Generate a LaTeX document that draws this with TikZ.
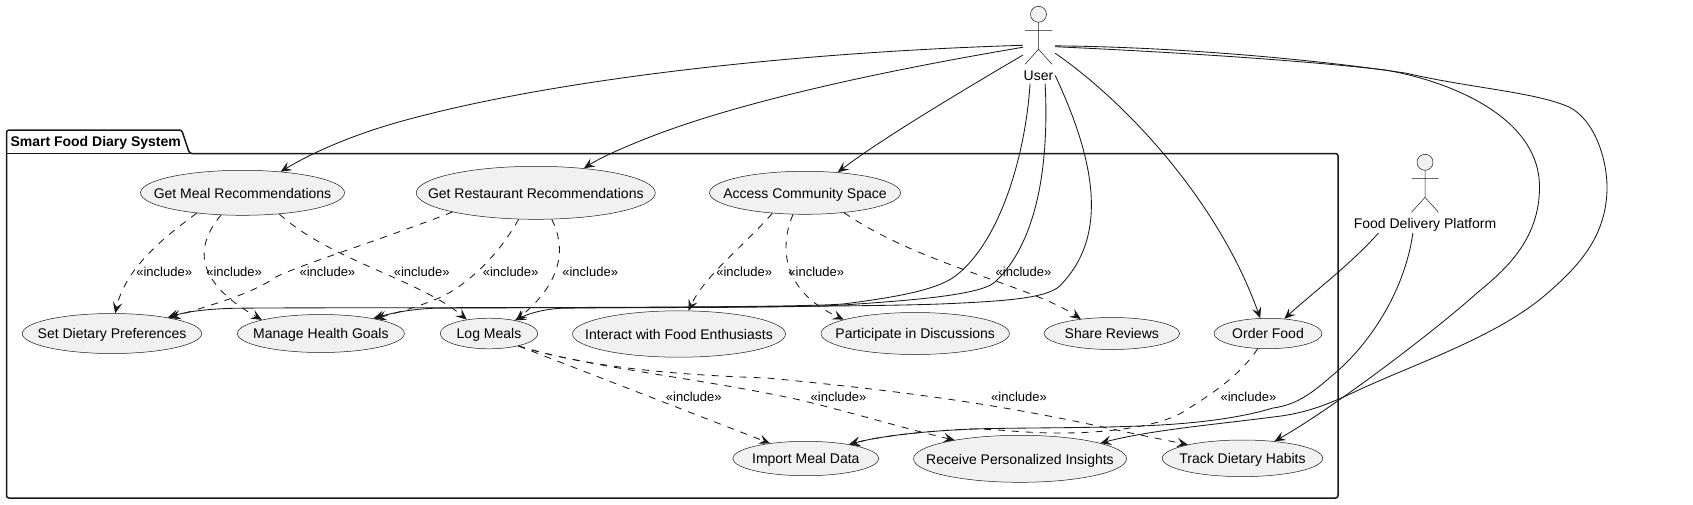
\documentclass[tikz,border=0pt]{standalone}
\usepackage{fontspec}
\setmainfont{Liberation Sans}
\usetikzlibrary{shapes.geometric,arrows.meta}
\definecolor{ink}{HTML}{181818}
\definecolor{pale}{HTML}{F1F1F1}
\newcommand{\uctext}[1]{\makebox[0pt]{\raisebox{-5.2pt}[0pt][0pt]{#1}}}
\tikzset{
  usecase/.style={ellipse,draw=ink,line width=.5pt,fill=pale,inner sep=0pt,font=\fontsize{14}{16}\selectfont},
  assoc/.style={draw=ink,line width=.85pt,-{Stealth[length=11pt,width=9.5pt,inset=4.5pt]}},
  incl/.style={assoc,dash pattern=on 7pt off 7pt},
  incltext/.style={inner sep=0pt,font=\fontsize{13}{15}\selectfont},
  stickman/.pic={
    \draw[ink,line width=.5pt,fill=pale] (0,0) circle (8);
    \draw[ink,line width=.5pt] (0,8)--(0,35) (-13.5,16)--(13.5,16) (-13.5,50)--(0,35)--(13.5,50);
  }
}
\begin{document}
\begin{tikzpicture}[x=1pt,y=-1pt]
\useasboundingbox (0,0) rectangle (1693,504);
% package frame
\draw[ink,line width=1.5pt,rounded corners=2.5pt] (6.5,498)--(6.5,130)--(181.7,130)--(189.5,153.5)--(1338,153.5)--(1338,498)--cycle;
\draw[ink,line width=1.5pt] (6.5,153.5)--(189.5,153.5);
\node[anchor=west,inner sep=0pt,font=\fontsize{14}{16}\selectfont\bfseries] (title) at (10.3,142.5) {Smart Food Diary System};
% actors
\pic at (1038.5,14.3) {stickman};
\pic at (1425,162.3) {stickman};
\node[inner sep=0pt,font=\fontsize{14}{16}\selectfont] (userlabel) at (1038.5,75.7) {User};
\node[minimum width=32pt,minimum height=77pt,inner sep=0pt] (user) at (1039,45) {};
\node[minimum height=16pt,inner sep=0pt,font=\fontsize{14}{16}\selectfont] (food) at (1425,224.8) {Food Delivery Platform};
% use cases
\node[usecase,minimum width=204pt,minimum height=45pt] (meal) at (242.5,192.8) {\uctext{Get Meal Recommendations}};
\node[usecase,minimum width=239pt,minimum height=53pt] (rest) at (535.8,192.8) {\uctext{Get Restaurant Recommendations}};
\node[usecase,minimum width=191pt,minimum height=43pt] (comm) at (805,192.8) {\uctext{Access Community Space}};
\node[usecase,minimum width=179.4pt,minimum height=40pt] (diet) at (112,333.5) {\uctext{Set Dietary Preferences}};
\node[usecase,minimum width=167pt,minimum height=38pt] (goal) at (320.9,333.5) {\uctext{Manage Health Goals}};
\node[usecase,minimum width=97.6pt,minimum height=30.6pt] (logm) at (489,333.5) {\uctext{Log Meals}};
\node[usecase,minimum width=213pt,minimum height=46.4pt] (fans) at (679,334) {\uctext{Interact with Food Enthusiasts}};
\node[usecase,minimum width=188.4pt,minimum height=42pt] (disc) at (915.2,333.5) {\uctext{Participate in Discussions}};
\node[usecase,minimum width=135.6pt,minimum height=32pt] (revw) at (1111.8,333.5) {\uctext{Share Reviews}};
\node[usecase,minimum width=108pt,minimum height=30.4pt] (ordr) at (1268,333.5) {\uctext{Order Food}};
\node[usecase,minimum width=146pt,minimum height=34.4pt] (impt) at (805.8,458.5) {\uctext{Import Meal Data}};
\node[usecase,minimum width=213pt,minimum height=47pt] (insg) at (1020,458.8) {\uctext{Receive Personalized Insights}};
\node[usecase,minimum width=160.4pt,minimum height=36.6pt] (habt) at (1242.5,458.3) {\uctext{Track Dietary Habits}};
% user lines
\draw[assoc] (user.181) .. controls (800,52) and (560,78) .. (406,120) .. controls (365,131) and (320,148) .. (meal.29);
\draw[assoc] (user.188) .. controls (900,68) and (740,100) .. (640,141) .. controls (620,149) and (600,158) .. (rest.27.6);
\draw[assoc] (user.212) .. controls (960,92) and (880,140) .. (comm.32);
\draw[assoc] (user.257) .. controls (1025,160) and (998,245) .. (954,277) .. controls (934,291) and (890,298) .. (843,304) .. controls (780,309) and (300,307) .. (233,308.3) .. controls (205,309) and (185,312) .. (diet.16);
\draw[assoc] (user.279) .. controls (1048,140) and (1045,235) .. (995,282) .. controls (980,296) and (900,301) .. (843,305) .. controls (780,309) and (500,307) .. (433,308.3) .. controls (415,309) and (395,312) .. (goal.16);
\draw[assoc] (user.298) .. controls (1090,150) and (1112,230) .. (1062.5,283) .. controls (1052,298) and (1010,301) .. (940,304) .. controls (860,307) and (620,307) .. (561,308.3) .. controls (545,309) and (530,313) .. (logm.27);
\draw[assoc] (user.333) .. controls (1130,105) and (1220,205) .. (ordr.117);
\draw[assoc] (user.357.5) .. controls (1180,47) and (1320,60) .. (1406.7,73.3) .. controls (1470,88) and (1535,92) .. (1569,107) .. controls (1595,120) and (1607,160) .. (1607,187) .. controls (1607,235) and (1580,265) .. (1547.6,293) .. controls (1500,335) and (1420,362) .. (1363,388) .. controls (1333,402) and (1310,413) .. (1273,417) .. controls (1220,424) and (1150,430) .. (insg.11);
\draw[assoc] (user.354) .. controls (1170,52) and (1300,60) .. (1385,70) .. controls (1445,80) and (1539.5,115) .. (1539.5,187) .. controls (1539.5,240) and (1505,270) .. (1477,293) .. controls (1430,335) and (1330,410) .. (habt.28);
% platform lines
\draw[assoc] (food.190) .. controls (1350,265) and (1310,295) .. (ordr.42);
\draw[assoc] (food.214) .. controls (1405,290) and (1370,345) .. (1330.8,376.7) .. controls (1310,395) and (1295,405) .. (1273,408) .. controls (1220,424) and (1150,426) .. (1107,427) .. controls (1060,428) and (1000,428) .. (973,429) .. controls (925,431) and (880,436) .. (impt.18);
% includes
\draw[incl] (meal.204.5) .. controls (160,240) and (125,270) .. (diet.81);
\draw[incl] (meal.226) .. controls (196,245) and (192,280) .. (goal.167);
\draw[incl] (meal.330) .. controls (330,260) and (420,280) .. (logm.148);
\draw[incl] (rest.193.4) .. controls (380,240) and (300,265) .. (276.4,276.7) .. controls (250,295) and (210,305) .. (diet.15);
\draw[incl] (rest.237) .. controls (490,270) and (450,295) .. (433.6,300) .. controls (415,308) and (395,313) .. (goal.15);
\draw[incl] (rest.301) .. controls (565,245) and (565,280) .. (logm.26);
\draw[incl] (comm.212) .. controls (745,245) and (705,275) .. (fans.68);
\draw[incl] (comm.241) .. controls (780,245) and (780,290) .. (disc.169);
\draw[incl] (comm.333.6) .. controls (920,265) and (1030,285) .. (revw.155);
\draw[incl] (logm.337) -- (impt.157);
\draw[incl] (logm.337) .. controls (590,368) and (700,378) .. (800,400) .. controls (850,412) and (910,430) .. (insg.164);
\draw[incl] (logm.337) .. controls (590,368) and (680,375) .. (767,378) .. controls (870,388) and (980,400) .. (1107,428) .. controls (1140,435) and (1165,440) .. (habt.166.5);
\draw[incl] (ordr.236) .. controls (1240,375) and (1215,392) .. (1183,412) .. controls (1160,426) and (1110,433) .. (1060,433) .. controls (1020,433) and (1000,429) .. (973,429) .. controls (925,431) and (880,436) .. (impt.18);
% labels
\foreach \lname/\lx/\ly in {la/164.2/272.3,lb/234.1/272.3,lc/327.4/272.3,ld/421.7/272.3,le/510.6/272.3,lf/590.2/272.3,lg/744.2/272.3,lh/816.3/272.3,li/1023.5/272.3,lj/693.8/397.3,lk/838.5/397.3,ll/1019/397.3,lm/1248.4/397.3}
  \node[incltext] (\lname) at (\lx,\ly) {«include»};
\end{tikzpicture}
\end{document}
